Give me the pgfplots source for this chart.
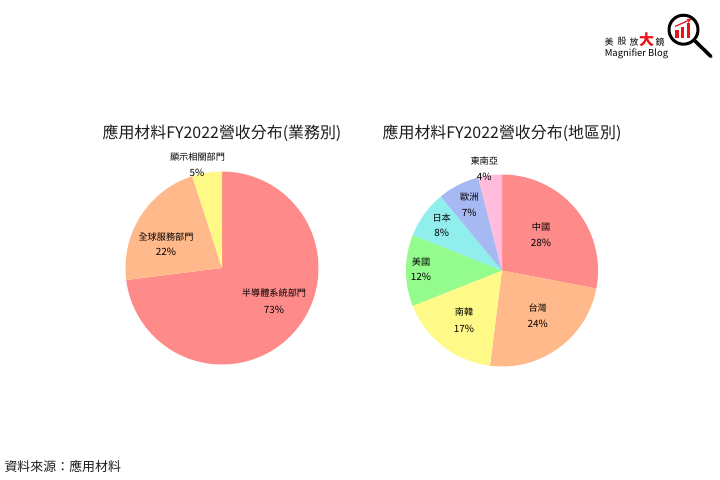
\documentclass[border=0pt]{standalone}
\usepackage{pgfplots}
\pgfplotsset{compat=1.18}
\usepackage{fontspec}
\setmainfont{Noto Sans CJK TC}

\definecolor{pRed}{HTML}{FF8A8A}
\definecolor{pOrange}{HTML}{FFB98A}
\definecolor{pYellow}{HTML}{FFF988}
\definecolor{pGreen}{HTML}{94FC8C}
\definecolor{pCyan}{HTML}{90EEEC}
\definecolor{pBlue}{HTML}{A6B9F2}
\definecolor{pPink}{HTML}{FFBCDC}
\definecolor{txt}{HTML}{1A1A1A}
\definecolor{logored}{HTML}{E8141B}

% pie helpers: centre, radius and running angle (clockwise from 90)
\newcommand\cx{0}
\newcommand\cy{0}
\newcommand\rr{0}
\newcommand\curang{90}
\newcommand{\piestart}[3]{\gdef\cx{#1}\gdef\cy{#2}\gdef\rr{#3}\gdef\curang{90}}
\newcommand{\pieslice}[2]{% percent, colour
  \pgfmathsetmacro{\nextang}{\curang-3.6*#1}%
  \edef\doslice{\noexpand\addplot[fill=#2, draw=none, no markers,
    domain=\nextang:\curang, samples=90]
    ({\cx+\rr*cos(x)},{\cy-\rr*sin(x)}) -- (axis cs:\cx,\cy) -- cycle;}%
  \doslice
  \xdef\curang{\nextang}%
}

\begin{document}
\begin{tikzpicture}
\begin{axis}[
  x=1bp, y=1bp,
  xmin=0, xmax=720, ymin=0, ymax=480,
  y dir=reverse,
  hide axis,
  clip=false,
]
\path (axis cs:0,0) (axis cs:720,480);

% ---- left pie: by segment
\piestart{222}{268}{96.5}
\pieslice{73}{pRed}
\pieslice{22}{pOrange}
\pieslice{5}{pYellow}

% ---- right pie: by region
\piestart{502}{270.5}{96}
\pieslice{28}{pRed}
\pieslice{24}{pOrange}
\pieslice{17}{pYellow}
\pieslice{12}{pGreen}
\pieslice{8}{pCyan}
\pieslice{7}{pBlue}
\pieslice{4}{pPink}

% titles
\node[font=\fontsize{16}{19}\selectfont, text=txt] at (axis cs:222,133) {應用材料FY2022營收分布(業務別)};
\node[font=\fontsize{16}{19}\selectfont, text=txt] at (axis cs:502,133) {應用材料FY2022營收分布(地區別)};

% slice labels: name above, percentage below
\begin{scope}[every node/.style={font=\fontsize{9.2}{11}\selectfont, text=black},
              pct/.style={font=\fontsize{10}{12}\selectfont}]
\node at (axis cs:274,293.5) {半導體系統部門};
\node[pct] at (axis cs:274,310) {73\%};
\node at (axis cs:166,236.7) {全球服務部門};
\node[pct] at (axis cs:166,252.3) {22\%};
\node at (axis cs:197.5,156.7) {顯示相關部門};
\node[pct] at (axis cs:197,172.7) {5\%};
\node at (axis cs:541,226.7) {中國};
\node[pct] at (axis cs:541,242.7) {28\%};
\node at (axis cs:537.7,308.3) {台灣};
\node[pct] at (axis cs:537.7,324) {24\%};
\node at (axis cs:464,312.3) {南韓};
\node[pct] at (axis cs:464,329.3) {17\%};
\node at (axis cs:421,261.7) {美國};
\node[pct] at (axis cs:421,277.3) {12\%};
\node at (axis cs:441.7,218.3) {日本};
\node[pct] at (axis cs:441.7,233.3) {8\%};
\node at (axis cs:469.3,196.7) {歐洲};
\node[pct] at (axis cs:469.3,212.7) {7\%};
\node at (axis cs:484.3,160.7) {東南亞};
\node[pct] at (axis cs:484.3,177.3) {4\%};
\end{scope}

% source
\node[anchor=west, font=\fontsize{13}{15}\selectfont, text=txt] at (axis cs:1,466) {資料來源：應用材料};

% logo
\begin{scope}[every node/.style={font=\fontsize{9}{11}\selectfont, text=black}]
\node at (axis cs:609,41.7) {美};
\node at (axis cs:622,41.7) {股};
\node at (axis cs:634,41.7) {放};
\node[font=\fontsize{15}{17}\selectfont\bfseries, text=logored] at (axis cs:646.5,40) {大};
\node at (axis cs:660,41.7) {鏡};
\node[font=\fontsize{9.5}{11}\selectfont] at (axis cs:636.5,53.5) {Magnifier Blog};
\end{scope}
\draw[line width=3bp] (axis cs:683.5,29.7) circle[radius=14.5bp];
\draw[line width=3.5bp, line cap=round] (axis cs:695,41) -- (axis cs:711,56.5);
\fill[logored] (axis cs:675,38) rectangle (axis cs:678.5,30);
\fill[logored] (axis cs:680.7,38) rectangle (axis cs:684.2,26.7);
\fill[logored] (axis cs:686.5,38) rectangle (axis cs:690,22.7);
\draw[logored, line width=1.2bp, ->, >=stealth] (axis cs:675,26.5) -- (axis cs:691.5,19);
\end{axis}
\end{tikzpicture}
\end{document}
